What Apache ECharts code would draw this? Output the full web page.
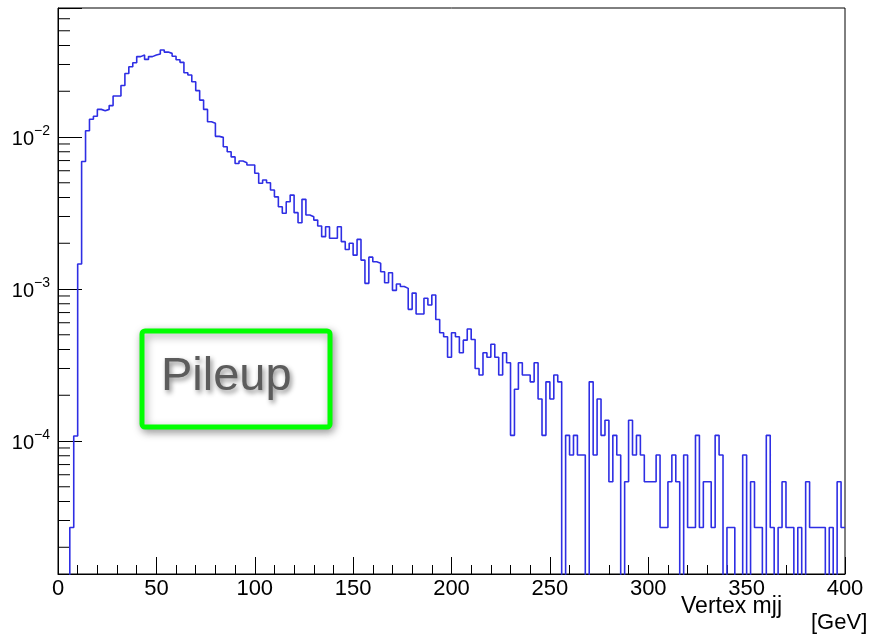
<!DOCTYPE html>
<html>
<head>
<meta charset="utf-8">
<script src="https://cdn.jsdelivr.net/npm/echarts@6/dist/echarts.min.js"></script>
<style>
html,body{margin:0;padding:0;background:#ffffff;}
#chart{width:874px;height:634px;}
</style>
</head>
<body>
<div id="chart"></div>
<script>
// ---- data ----
const xRange = [0, 400];
const binWidth = 2;
const xTickStep = 50;
const yRange = [1.334e-5, 0.0706];
const binValues = [
  0, 0, 0, 2.7e-5, 1.08e-4, 1.46e-3, 6.9e-3, 0.0110, 0.0131, 0.0137,
  0.0152, 0.0149, 0.0152, 0.0161, 0.0186, 0.0186, 0.0218, 0.0262, 0.0290, 0.0308,
  0.0338, 0.0346, 0.0324, 0.0338, 0.0346, 0.0352, 0.0374, 0.0362, 0.0355, 0.0340,
  0.0322, 0.0310, 0.0265, 0.0256, 0.0231, 0.0202, 0.0175, 0.0152, 0.0126, 0.0123,
  0.0101, 0.00995, 0.00863, 0.0080, 0.0074, 0.0067, 0.00695, 0.00678, 0.00654, 0.00654,
  0.00577, 0.00496, 0.00521, 0.0050, 0.00448, 0.00404, 0.00348, 0.00315, 0.00375, 0.00415,
  0.00318, 0.00273, 0.00389, 0.00307, 0.00299, 0.00284, 0.0026, 0.00221, 0.00257, 0.00216,
  0.00216, 0.00257, 0.00205, 0.00182, 0.0020, 0.00167, 0.00212, 0.00155, 0.00109, 0.00162,
  0.00151, 0.00148, 0.0013, 0.0011, 0.00128, 0.00098, 0.00108, 0.00104, 0.00101, 0.000735,
  0.00094, 0.000685, 0.000685, 0.00087, 0.000785, 0.000914, 0.00063, 0.000516, 0.000485, 0.000356,
  0.000516, 0.000485, 0.000381, 0.000461, 0.000546, 0.000465, 0.0003, 0.000272, 0.000381, 0.000356,
  0.000433, 0.000356, 0.000272, 0.000381, 0.000327, 0.000109, 0.000219, 0.000327, 0.000272, 0.000272,
  0.000245, 0.000327, 0.000189, 0.000109, 0.000245, 0.000189, 0.000272, 0.000245, 0, 0.000109,
  8.1e-5, 0.000109, 8.1e-5, 8.1e-5, 0, 0.000245, 8.1e-5, 0.000189, 0.000109, 0.000137,
  5.4e-5, 0.000109, 8.1e-5, 0, 5.4e-5, 0.000137, 8.1e-5, 0.000109, 8.1e-5, 5.4e-5,
  5.4e-5, 5.4e-5, 8.1e-5, 2.7e-5, 2.7e-5, 5.4e-5, 8.1e-5, 5.4e-5, 0, 8.1e-5,
  2.7e-5, 2.7e-5, 0.000109, 2.7e-5, 5.4e-5, 5.4e-5, 2.7e-5, 0.000109, 8.1e-5, 0,
  2.7e-5, 2.7e-5, 0, 0, 8.1e-5, 0, 5.4e-5, 2.7e-5, 2.7e-5, 0,
  0.000109, 2.7e-5, 0, 2.7e-5, 5.4e-5, 2.7e-5, 2.7e-5, 0, 2.7e-5, 0,
  5.4e-5, 2.7e-5, 2.7e-5, 2.7e-5, 2.7e-5, 0, 2.7e-5, 0, 5.4e-5, 2.7e-5
];
const boxLabel = 'Pileup';
const xTitle = 'Vertex mjj';
const xUnit = '[GeV]';

// ---- build ----
const FONT = '"Liberation Sans", Arial, Helvetica, sans-serif';
const emptyLevel = yRange[0] / 100; // empty bins drop below the axis floor (clipped)
const histPoints = binValues.map((v, i) => [xRange[0] + i * binWidth, v > 0 ? v : emptyLevel]);
histPoints.push([xRange[1], histPoints[histPoints.length - 1][1]]);

const minorTicks = [];
for (let e = -7; e <= 0; e++) {
  for (let k = 2; k <= 9; k++) {
    const v = k * Math.pow(10, e);
    if (v > yRange[0] && v < yRange[1]) minorTicks.push([xRange[0], v]);
  }
}

const chart = echarts.init(document.getElementById('chart'), null, {renderer: 'canvas'});
chart.setOption({
  animation: false,
  backgroundColor: '#ffffff',
  grid: {
    left: 58, right: 29, top: 8, bottom: 60,
    show: true, borderColor: '#000', borderWidth: 1,
    containLabel: false, outerBoundsMode: 'none'
  },
  xAxis: {
    type: 'value',
    min: xRange[0], max: xRange[1], interval: xTickStep,
    axisLine: {show: true, onZero: false, lineStyle: {color: '#000', width: 1}},
    axisTick: {show: true, inside: true, length: 17, lineStyle: {color: '#000', width: 1}},
    minorTick: {show: true, splitNumber: 5, length: 9, lineStyle: {color: '#000', width: 1}},
    axisLabel: {color: '#000', fontSize: 22, fontFamily: FONT, margin: 4, showMinLabel: true, showMaxLabel: true},
    splitLine: {show: false}
  },
  yAxis: {
    type: 'log', logBase: 10,
    min: yRange[0], max: yRange[1],
    axisLine: {show: true, onZero: false, lineStyle: {color: '#000', width: 1}},
    axisTick: {show: true, inside: true, length: 24, lineStyle: {color: '#000', width: 1}},
    axisLabel: {
      margin: 8,
      padding: [5, 0, 0, 0],
      formatter: function (v) {
        const e = Math.log10(v);
        const r = Math.round(e);
        if (Math.abs(e - r) > 1e-6) return '';
        return '{b|10}{s|' + (r < 0 ? '\u2212' + (-r) : r) + '}';
      },
      rich: {
        b: {fontSize: 20, lineHeight: 30, fontFamily: FONT, color: '#000'},
        s: {fontSize: 14, lineHeight: 14, verticalAlign: 'top', fontFamily: FONT, color: '#000'}
      }
    },
    splitLine: {show: false}
  },
  series: [
    {
      type: 'line',
      data: histPoints,
      step: 'end',
      symbol: 'none',
      clip: true,
      lineStyle: {color: '#2e2ee4', width: 1.6},
      silent: true
    },
    {
      type: 'custom',
      data: minorTicks,
      silent: true,
      renderItem: function (params, api) {
        const p = api.coord([api.value(0), api.value(1)]);
        return {
          type: 'line',
          shape: {x1: p[0], y1: p[1], x2: p[0] + 12, y2: p[1]},
          style: {stroke: '#000', lineWidth: 1}
        };
      }
    }
  ],
  graphic: [
    {
      type: 'rect', z: 100,
      shape: {x: 142, y: 331, width: 188, height: 96, r: 3},
      style: {fill: '#ffffff', stroke: '#00ff00', lineWidth: 5,
        shadowBlur: 8, shadowColor: 'rgba(0,0,0,0.35)', shadowOffsetX: 2, shadowOffsetY: 3}
    },
    {
      type: 'text', z: 101, x: 161, y: 377.5,
      style: {text: boxLabel, fontSize: 47, fontFamily: FONT, fill: '#5c5c5c',
        textAlign: 'left', textVerticalAlign: 'middle', verticalAlign: 'middle',
        textShadowBlur: 5, textShadowColor: 'rgba(0,0,0,0.45)', textShadowOffsetX: 2, textShadowOffsetY: 3,
        shadowBlur: 5, shadowColor: 'rgba(0,0,0,0.45)', shadowOffsetX: 2, shadowOffsetY: 3}
    },
    {
      type: 'text', z: 101, x: 782, y: 606.5,
      style: {text: xTitle, fontSize: 23, fontFamily: FONT, fill: '#000',
        textAlign: 'right', textVerticalAlign: 'middle', verticalAlign: 'middle'}
    },
    {
      type: 'text', z: 101, x: 811, y: 623,
      style: {text: xUnit, fontSize: 22, fontFamily: FONT, fill: '#000',
        textAlign: 'left', textVerticalAlign: 'middle', verticalAlign: 'middle'}
    }
  ]
});
</script>
</body>
</html>
